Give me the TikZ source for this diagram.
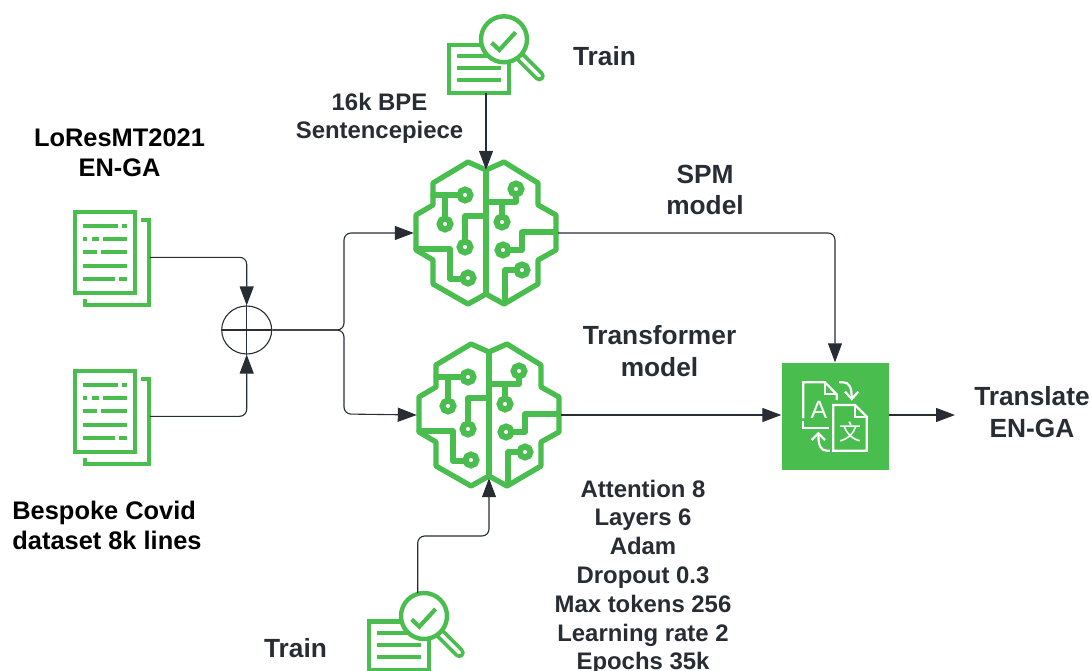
\documentclass[tikz,border=0pt]{standalone}
\usepackage{fontspec}
\setmainfont{Liberation Sans}
\newfontfamily\cjk{Noto Sans CJK SC}
\usetikzlibrary{arrows.meta,shapes.geometric}
\definecolor{leaf}{HTML}{4ABD4F}
\definecolor{ink}{HTML}{282C33}
\tikzstyle{hidden}=[inner sep=0pt,minimum width=144,minimum height=126]
\tikzstyle{trace}=[draw=leaf,line width=5.3,line join=round,line cap=round]
\tikzstyle{pad}=[draw=leaf,fill=white,line width=6]
\tikzstyle{link}=[draw=ink,line width=1.1,rounded corners=7,-{Triangle[length=19pt,width=14pt]}]
\tikzstyle{caption}=[font=\bfseries\fontsize{26.3}{31.5}\selectfont,text=ink,align=center]
\tikzstyle{note}=[font=\bfseries\fontsize{23.9}{28.5}\selectfont,text=ink,align=center]
\tikzstyle{dark}=[font=\bfseries\fontsize{25.4}{30}\selectfont,text=black,align=center]
\tikzstyle{sign}=[draw=white,line width=2.2]
\tikzset{
    x=1pt,y=-1pt,
    brain/.pic={
        \path[trace] (0,-63) -- (-18,-71) -- (-53,-50) -- (-53,-28) -- (-70,-18) -- (-70,17) -- (-53,27) -- (-53,51) -- (-18,71) -- (0,61)
            -- (18,71) -- (52,51) -- (52,27) -- (70,17) -- (70,-18) -- (52,-28) -- (52,-50) -- (18,-71) -- cycle;
        \path[trace] (0,-63) -- (0,61);
        % Wires of the left half, then of the right half
        \path[trace] (-53,-38) -- (-21,-38) (-41,-38) -- (-41,-9) (0,-17) -- (-21,-17) -- (-21,14) (-70,16) -- (-36,16) -- (-36,46) -- (-18,46);
        \path[trace] (0,-31) -- (30,-31) -- (30,-44) (16,-31) -- (16,-11) (70,-1) -- (36,-1) -- (36,17) -- (17,17) (19,66) -- (19,37) -- (36,37);
        \foreach \pos in {(-21,-38), (-41,-9), (-21,14), (-18,45), (30,-44), (16,-11), (17,17), (36,37)}
            \path[pad] \pos circle (5.5);
    },
    docicon/.pic={
        \path[draw=leaf,line width=3.9] (-36.7,-45.7) rectangle (23.3,35.3);
        \path[draw=leaf,line width=3.5] (29.3,-37.3) -- (37.3,-37.3) -- (37.3,47.7) -- (-26.7,47.7) -- (-26.7,41.7);
        \foreach \y/\row in {-31.7/{-29/6.7,10.7/15}, -18.3/{-29/-25,-20/-12.3,-9/15}, -5/{-29/-15,-11/15}, 8.3/{-29/15}, 21.7/{-29/3.3,7.7/15}}
            \foreach \a/\b in \row
                \path[draw=leaf,line width=3.9] (\a,\y) -- (\b,\y);
    },
    searchicon/.pic={
        \path[draw=leaf,fill=white,line width=4.2] (-30,-24.3) rectangle (30,24.3);
        \foreach \y in {-13,-0.7,11.3}
            \path[draw=leaf,line width=4] (-22,\y) -- (21.7,\y);
        \path[draw=leaf,line width=11,line cap=round] (40.7,-12.3) -- (60,7);
        \path[draw=white,line width=3.4,line cap=round] (40.7,-12.3) -- (60,7);
        \path[draw=leaf,fill=white,line width=4.4] (24.7,-29.7) circle (23);
        \path[draw=leaf,line width=4.2] (12.3,-26.3) -- (20,-19) -- (36.3,-36.7);
    }
}
\begin{document}
\begin{tikzpicture}
    \useasboundingbox (0,0) rectangle (1092,671);
    \clip (0,0) rectangle (1092,671);
    % First we place the parts
    \node[hidden] (brainA) at (486,233) {};
    \node[hidden] (brainB) at (489,415) {};
    \pic at (brainA) {brain};
    \pic at (brainB) {brain};
    \foreach \pos/\name in {{(111.7,257.3)/docA}, {(111.7,416.3)/docB}} {
        \node[inner sep=0pt,minimum width=76,minimum height=81] (\name) at \pos {};
        \pic at (\name) {docicon};
    }
    \node[inner sep=0pt,minimum width=60,minimum height=48.6] (searchA) at (479.3,69) {};
    \node[inner sep=0pt,minimum width=60,minimum height=48.6] (searchB) at (399.3,645.7) {};
    \pic at (searchA) {searchicon};
    \pic at (searchB) {searchicon};
    \node[draw=ink,line width=1.1,ellipse,minimum width=50,minimum height=48,inner sep=0pt] (join) at (246.7,330) {};
    \path[draw=ink,line width=1.1] (join.north) -- (join.south) (join.west) -- (join.east);
    \node[fill=leaf,minimum size=107,inner sep=0pt] (translate) at (835,416) {};
    % Translate sign
    \begin{scope}[shift={(translate.center)}]
        \path[sign] (1.7,-16) -- (1.7,-21.7) -- (-10,-33.7) -- (-31.7,-33.7) -- (-31.7,2.3);
        \path[sign] (-10,-33.7) -- (-10,-21.7) -- (1.7,-21.7);
        \path[sign] (-31.7,4.7) -- (-31.7,12.3) -- (-5.7,12.3);
        \path[sign] (-1.7,-11) -- (20,-11) -- (31.7,0.7) -- (31.7,34.7) -- (-1.7,34.7) -- cycle;
        \path[sign] (20,-11) -- (20,0.7) -- (31.7,0.7);
        \path[sign] (4,-33.7) -- (8,-33.7) .. controls (14,-33.7) and (16.7,-29) .. (16.7,-18);
        \path[sign] (10,-24.3) -- (16.7,-17) -- (23.3,-24.3);
        \path[sign] (-5,34.7) -- (-8,34.7) .. controls (-14,34.7) and (-16.7,30) .. (-16.7,18);
        \path[sign] (-23.3,24) -- (-16.7,17.3) -- (-10,24);
        \node[font=\fontsize{25}{25}\selectfont,text=white,inner sep=0pt] (letterA) at (-16,-6) {A};
        \node[font=\cjk\fontsize{22}{22}\selectfont,text=white,inner sep=0pt] (letterX) at (15,15.7) {文};
    \end{scope}
    \coordinate (tapB) at (417.7,593);
    \coordinate (out) at (955,415);
    % Connect the parts with arrows
    \path[link] (docA.east) -- (join.north |- docA.east) -- (join.north);
    \path[link] (docB.east) -- (join.south |- docB.east) -- (join.south);
    \path[link] (join.east) -- (344,330) -- (344,233) -- (brainA.west);
    \path[link] (join.east) -- (344,330) -- (344,414) -- (brainB.west);
    \path[link] (searchA.south -| brainA.north) -- (brainA.north);
    \path[link] (tapB) -- (417.7,536) -- (489,536) -- (brainB.south);
    \path[link] (brainA.east) -- (835,233) -- (translate.north);
    \path[link] (brainB.east) -- (translate.west |- brainB.east);
    \path[link] (translate.east |- out) -- (out);
    % Then the labels
    \node[dark] (lblLoRes) at (119.5,153) {LoResMT2021\\EN-GA};
    \node[dark,align=left] (lblCovid) at (107,525) {Bespoke Covid\\dataset 8k lines};
    \node[note] (lblBpe) at (379.5,118.5) {16k BPE\\Sentencepiece};
    \node[caption] (lblTrainA) at (604.5,56) {Train};
    \node[caption] (lblTrainB) at (295.5,648) {Train};
    \node[caption] (lblSpm) at (705,190) {SPM\\model};
    \node[caption] (lblTrans) at (659.5,351) {Transformer\\model};
    \node[caption] (lblOut) at (1032,412) {Translate\\EN-GA};
    \foreach \y/\txt in {497/Attention 8, 525.8/Layers 6, 554.6/Adam, 583.4/Dropout 0.3, 612.2/Max tokens 256, 641/Learning rate 2, 669.8/Epochs 35k}
        \node[note,anchor=base] at (643,\y) {\txt};
\end{tikzpicture}
\end{document}
